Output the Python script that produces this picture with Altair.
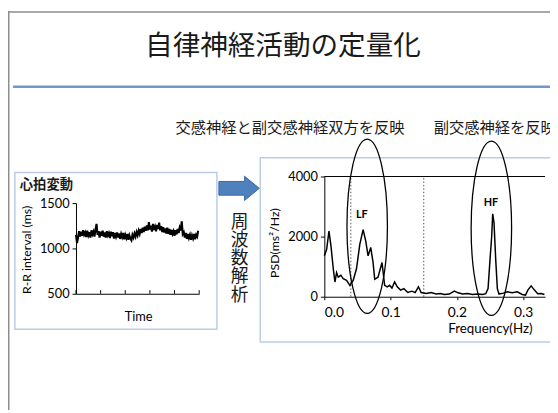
import altair as alt
import pandas as pd

# ---------------- data ----------------
rr_ms = [1150, 1060, 1120, 1190, 1130, 1185, 1140, 1200, 1150, 1175, 1125, 1195, 1145, 1180, 1120, 1200, 1155, 1185, 1130, 1210,
         1270, 1150, 1190, 1120, 1185, 1140, 1195, 1130, 1175, 1120, 1190, 1145, 1170, 1115, 1185, 1135, 1180, 1110, 1170, 1130,
         1175, 1120, 1165, 1105, 1160, 1125, 1170, 1100, 1150, 1115, 1160, 1095, 1145, 1110, 1090, 1150, 1120, 1165, 1130, 1180,
         1145, 1195, 1160, 1215, 1170, 1230, 1180, 1240, 1195, 1255, 1200, 1290, 1210, 1250, 1185, 1270, 1205, 1240, 1190, 1260,
         1215, 1285, 1200, 1245, 1180, 1235, 1175, 1220, 1165, 1230, 1160, 1215, 1150, 1205, 1160, 1190, 1140, 1200, 1155, 1215,
         1170, 1230, 1200, 1300, 1160, 1180, 1120, 1170, 1105, 1160, 1115, 1150, 1095, 1145, 1110, 1160, 1100, 1150, 1130, 1195]
time_ticks = [0, 24, 48, 72, 96, 120]
rr_ticks = [500, 1000, 1500]

freq_hz = [0.0, 0.0035, 0.007, 0.01, 0.0135, 0.016, 0.0185, 0.021, 0.025, 0.0285, 0.0335, 0.0385, 0.0435, 0.0485,
           0.0535, 0.0585, 0.0625, 0.066, 0.07, 0.0735, 0.076, 0.081, 0.087, 0.091, 0.095, 0.0985, 0.102, 0.106,
           0.11, 0.115, 0.12, 0.126, 0.132, 0.137, 0.142, 0.146, 0.1535, 0.161, 0.1685, 0.175, 0.181, 0.1885,
           0.196, 0.202, 0.2085, 0.216, 0.2235, 0.231, 0.2385, 0.2435, 0.247, 0.25, 0.2525, 0.254, 0.256, 0.2585,
           0.261, 0.2635, 0.27, 0.276, 0.2835, 0.291, 0.2985, 0.3035, 0.307, 0.312, 0.317, 0.322, 0.327, 0.332]
psd_val = [1360, 1580, 2180, 1690, 930, 490, 800, 650, 710, 600, 545, 380, 545, 930,
           1740, 2230, 1850, 1360, 1640, 1140, 580, 650, 1140, 380, 330, 380, 290, 490,
           330, 220, 270, 140, 185, 140, 330, 140, 110, 140, 90, 110, 75, 90,
           185, 130, 90, 110, 75, 90, 75, 100, 270, 1250, 2020, 2760, 2450, 1250,
           270, 90, 120, 165, 130, 165, 75, 55, 220, 360, 220, 100, 110, 75]
psd_ticks = [0, 2000, 4000]
freq_ticks = [0.0, 0.1, 0.2, 0.3]
band_edges = [0.04, 0.15]
freq_max = 0.333
psd_max = 4000

JP = "Noto Sans CJK JP"
LAT = "Lato"

# the view (plot area) is the PSD panel; everything else is placed around it
OX, OY = 321, 168          # view origin inside the 550x405 canvas
VW, VH = 224, 119          # view size

one = pd.DataFrame({"k": [0]})
ts_df = pd.DataFrame({"t": list(range(len(rr_ms))), "rr": rr_ms})
tick_df = pd.DataFrame({"t": time_ticks, "lo": [500] * len(time_ticks), "hi": [540] * len(time_ticks)})
psd_df = pd.DataFrame({"f": freq_hz, "p": psd_val})
band_df = pd.DataFrame({"f": band_edges, "lo": [0] * len(band_edges), "hi": [psd_max] * len(band_edges)})
top_df = pd.DataFrame({"f0": [0.0], "f1": [freq_max], "p": [psd_max]})

# ---------------- helpers (canvas coordinates -> view coordinates) ----------------
def rule(x, x2, y, y2, **kw):
    return alt.Chart(one).mark_rule(**kw).encode(
        x=alt.value(x - OX), x2=alt.value(x2 - OX), y=alt.value(y - OY), y2=alt.value(y2 - OY))

def box(x, x2, y, y2, **kw):
    return alt.Chart(one).mark_rect(**kw).encode(
        x=alt.value(x - OX), x2=alt.value(x2 - OX), y=alt.value(y - OY), y2=alt.value(y2 - OY))

def label(s, x, y, **kw):
    return alt.Chart(one).mark_text(text=s, **kw).encode(x=alt.value(x - OX), y=alt.value(y - OY))

def symbol(path, x, y, size, **kw):
    return alt.Chart(one).mark_point(shape=path, size=size, opacity=1, **kw).encode(
        x=alt.value(x - OX), y=alt.value(y - OY))

# ---------------- time series panel ----------------
ts_xs = alt.Scale(domain=[0, 120], range=[69 - OX, 194 - OX], nice=False, zero=False)
ts_ys = alt.Scale(domain=[500, 1500], range=[287 - OY, 195 - OY], nice=False, zero=False)

ts_line = alt.Chart(ts_df).mark_line(color="black", strokeWidth=2.1).encode(
    x=alt.X("t:Q", scale=ts_xs,
            axis=alt.Axis(orient="bottom", offset=0, ticks=False, labels=False, grid=False, zindex=2,
                          domainColor="black", title="Time", titleFont=LAT, titleFontSize=13,
                          titleFontWeight="normal", titleColor="black", titleX=132 - OX, titleY=23,
                          titleAlign="center", titleBaseline="middle")),
    y=alt.Y("rr:Q", scale=ts_ys,
            axis=alt.Axis(orient="left", offset=OX - 69, values=rr_ticks, format="d", grid=False, tickSize=4,
                          zindex=2, labelPadding=3, labelFont=LAT, labelFontSize=13, labelColor="black",
                          domainColor="black", tickColor="black", title="R-R interval (ms)",
                          titleFont=LAT, titleFontSize=12.5, titleFontWeight="normal",
                          titleColor="black", titleX=-50, titleY=242 - OY, titleAngle=270,
                          titleAlign="center", titleBaseline="middle")),
)
ts_tick = alt.Chart(tick_df).mark_rule(color="black", strokeWidth=1).encode(
    x=alt.X("t:Q", scale=ts_xs, axis=None),
    y=alt.Y("lo:Q", scale=ts_ys, axis=None),
    y2="hi:Q",
)

# ---------------- PSD panel ----------------
ps_xs = alt.Scale(domain=[0, freq_max], range=[0, 545 - OX], nice=False, zero=False)
ps_ys = alt.Scale(domain=[0, psd_max], range=[290 - OY, 0], nice=False, zero=False)

psd_line = alt.Chart(psd_df).mark_line(color="black", strokeWidth=1.5).encode(
    x=alt.X("f:Q", scale=ps_xs,
            axis=alt.Axis(orient="bottom", offset=290 - OY - VH, values=freq_ticks, format=".1f", grid=False,
                          tickSize=3, labelPadding=6, labelFont=LAT, labelFontSize=14, zindex=2,
                          labelColor="black", domainColor="black", tickColor="black",
                          title="Frequency(Hz)", titleFont=LAT, titleFontSize=13.5,
                          titleFontWeight="normal", titleColor="black", titleX=489 - OX, titleY=32,
                          titleAlign="center", titleBaseline="middle")),
    y=alt.Y("p:Q", scale=ps_ys,
            axis=alt.Axis(orient="left", offset=0, values=psd_ticks, format="d", grid=False, tickSize=4, zindex=2,
                          labelPadding=3, labelFont=LAT, labelFontSize=13, labelColor="black",
                          domainColor="black", tickColor="black", title="PSD(ms²/Hz)",
                          titleFont=LAT, titleFontSize=12.5, titleFontWeight="normal",
                          titleColor="black", titleX=-51, titleY=235 - OY, titleAngle=270,
                          titleAlign="center", titleBaseline="middle")),
)
psd_top = alt.Chart(top_df).mark_rule(color="black", strokeWidth=1).encode(
    x=alt.X("f0:Q", scale=ps_xs, axis=None), x2="f1:Q",
    y=alt.Y("p:Q", scale=ps_ys, axis=None),
)
psd_band = alt.Chart(band_df).mark_rule(color="#555555", strokeWidth=1, strokeDash=[1.5, 2]).encode(
    x=alt.X("f:Q", scale=ps_xs, axis=None),
    y=alt.Y("lo:Q", scale=ps_ys, axis=None), y2="hi:Q",
)

# ---------------- slide decorations ----------------
ellipse = ("M0,-1C0.128,-1,0.232,-0.552,0.232,0C0.232,0.552,0.128,1,0,1"
           "C-0.128,1,-0.232,0.552,-0.232,0C-0.232,-0.552,-0.128,-1,0,-1Z")
arrow = "M-1,-0.34L0.27,-0.34L0.27,-0.6L1,0L0.27,0.6L0.27,0.34L-1,0.34Z"

back = [
    rule(0, 550, 1, 1, color="#8c8c8c", strokeWidth=1.5),
    rule(0.75, 0.75, 0, 405, color="#8c8c8c", strokeWidth=1.5),
    rule(5, 550, 77, 77, color="#7297c9", strokeWidth=2.5),
    box(7, 212, 164, 323, fill="white", fillOpacity=0, stroke="#b9cde5", strokeWidth=1.5),
    box(256, 565, 149, 336, fill="white", fillOpacity=0, stroke="#b9cde5", strokeWidth=1.5),
]
front = [
    label("自律神経活動の定量化", 279, 37, font=JP, fontSize=28, color="#1a1a1a", align="center", baseline="middle"),
    label("交感神経と副交感神経双方を反映", 170, 119, font=JP, fontSize=15.5, color="#1a1a1a", align="left", baseline="middle"),
    label("副交感神経を反映", 432, 119, font=JP, fontSize=15.5, color="#1a1a1a", align="left", baseline="middle"),
    label("心拍変動", 12, 177, font=JP, fontSize=13.5, fontWeight="bold", color="#1a1a1a", align="left", baseline="middle"),
    label(["周", "波", "数", "解", "析"], 235, 215, font=JP, fontSize=18, lineHeight=18.5, color="#1a1a1a",
          align="center", baseline="middle"),
    label("LF", 359, 207, font=LAT, fontSize=11, fontWeight="bold", color="black", align="center", baseline="middle"),
    label("HF", 490, 195, font=LAT, fontSize=11, fontWeight="bold", color="black", align="center", baseline="middle"),
    symbol(arrow, 234.5, 180, 1681, filled=True, fill="#4f81bd", stroke="#3c6aa3", strokeWidth=1),
    symbol(ellipse, 364.5, 218.5, 31329, filled=False, stroke="black", strokeWidth=1.3),
    symbol(ellipse, 490.5, 220.5, 31329, filled=False, stroke="black", strokeWidth=1.3),
]

chart = alt.layer(*back, psd_band, psd_top, psd_line, ts_line, ts_tick, *front).resolve_scale(
    x="independent", y="independent"
).resolve_axis(
    x="independent", y="independent"
).properties(
    width=VW, height=VH, autosize=alt.AutoSizeParams(type="none"),
    padding={"left": OX, "top": OY, "right": 550 - OX - VW, "bottom": 405 - OY - VH},
    background="white",
).configure_view(stroke=None)

chart.save("out.html", embed_options={"renderer": "svg", "actions": False})
